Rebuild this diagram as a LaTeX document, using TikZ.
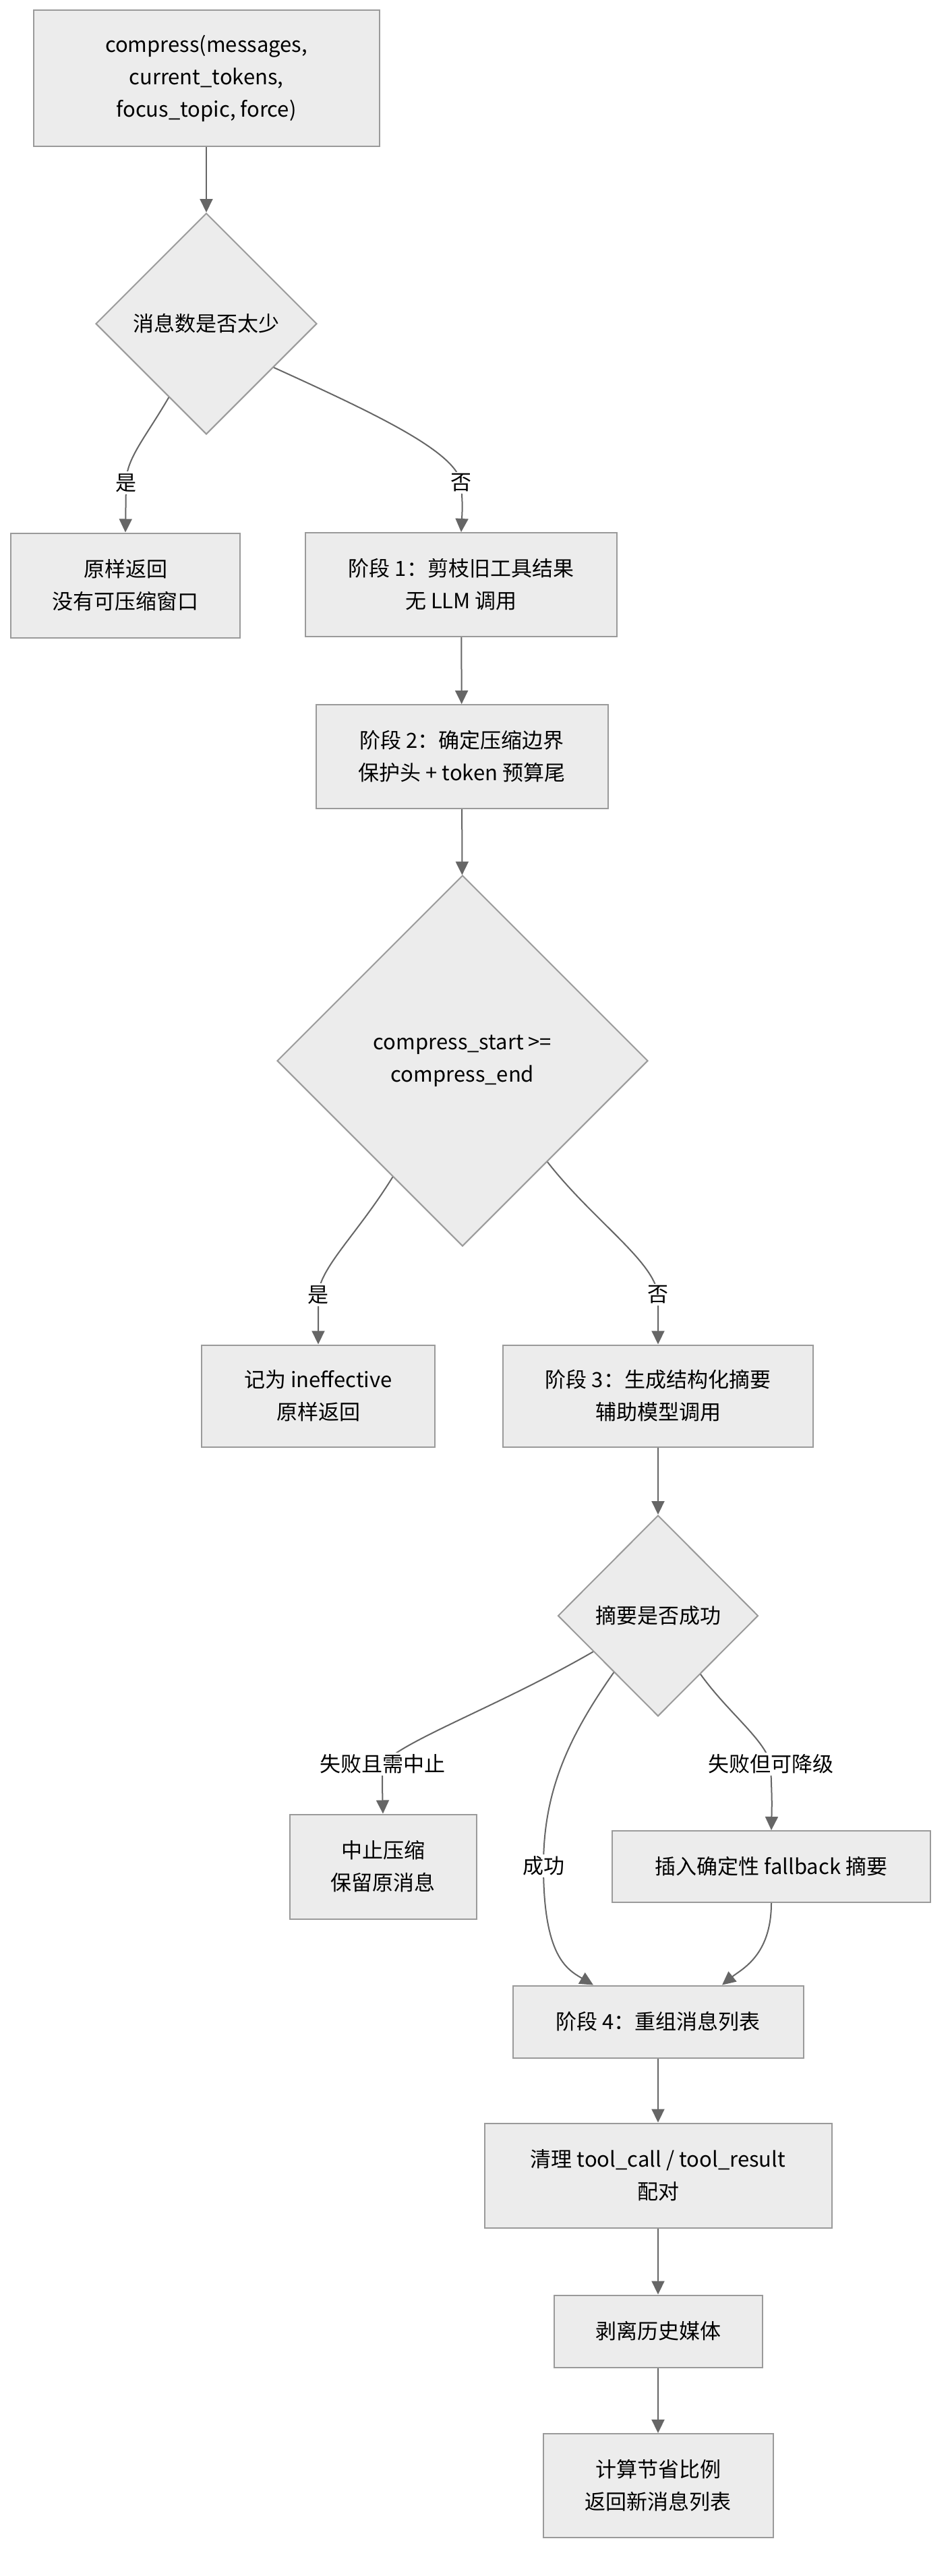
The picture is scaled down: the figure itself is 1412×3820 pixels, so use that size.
\documentclass[tikz,border=0pt]{standalone}
\usepackage{fontspec}
\setmainfont{Noto Sans CJK SC}
\usepackage{tikz}
\usetikzlibrary{arrows.meta,shapes.geometric,calc}
\definecolor{BoxFill}{HTML}{ECECEC}
\definecolor{BoxLine}{HTML}{9A9A9A}
\definecolor{EdgeGray}{HTML}{666666}

\tikzset{
  stage/.style={draw=BoxLine,fill=BoxFill,line width=2pt,align=center,
    inner sep=0pt,font=\fontsize{31}{48}\selectfont},
  check/.style={diamond,draw=BoxLine,fill=BoxFill,line width=2pt,align=center,
    inner sep=0pt,aspect=1,font=\fontsize{31}{48}\selectfont},
  edge/.style={draw=EdgeGray,line width=2pt,-{Triangle[length=20pt,width=19pt]}},
  elabel/.style={fill=white,inner sep=3pt,font=\fontsize{31}{40}\selectfont}
}

\begin{document}
\begin{tikzpicture}[x=1pt,y=-1pt]
  \useasboundingbox (0,0) rectangle (1412,3820);
  \node[stage,minimum width=513pt,minimum height=202pt] (start) at (306,116)
    {compress(messages,\\current\_tokens,\\focus\_topic, force)};
  \node[check,minimum width=328pt,minimum height=328pt] (few) at (306,480) {消息数是否太少};
  \node[stage,minimum width=340pt,minimum height=155pt] (keepA) at (186,868) {原样返回\\没有可压缩窗口};
  \node[stage,minimum width=462pt,minimum height=154pt] (prune) at (684,867) {阶段 1：剪枝旧工具结果\\无 LLM 调用};
  \node[stage,minimum width=433pt,minimum height=154pt] (bound) at (685,1122) {阶段 2：确定压缩边界\\保护头 + token 预算尾};
  \node[check,minimum width=550pt,minimum height=550pt] (range) at (686,1573) {compress\_start >=\\compress\_end};
  \node[stage,minimum width=346pt,minimum height=151pt] (noeff) at (472,2070) {记为 ineffective\\原样返回};
  \node[stage,minimum width=460pt,minimum height=151pt] (summ) at (976,2070) {阶段 3：生成结构化摘要\\辅助模型调用};
  \node[check,minimum width=297pt,minimum height=298pt] (ok) at (976,2396) {摘要是否成功};
  \node[stage,minimum width=277pt,minimum height=155pt] (abort) at (568,2768) {中止压缩\\保留原消息};
  \node[stage,minimum width=472pt,minimum height=106pt] (fallback) at (1144,2768) {插入确定性 fallback 摘要};
  \node[stage,minimum width=431pt,minimum height=107pt] (rebuild) at (976,2998) {阶段 4：重组消息列表};
  \node[stage,minimum width=515pt,minimum height=155pt] (pairs) at (976,3226) {清理 tool\_call / tool\_result\\配对};
  \node[stage,minimum width=309pt,minimum height=107pt] (media) at (976,3457) {剥离历史媒体};
  \node[stage,minimum width=341pt,minimum height=154pt] (finish) at (976,3686) {计算节省比例\\返回新消息列表};

  \coordinate (yesA) at (187,716);
  \coordinate (noA) at (684,716);
  \coordinate (yesB) at (472,1920);
  \coordinate (noB) at (976,1920);
  \coordinate (stopL) at (567,2616);
  \coordinate (okL) at (806,2767);
  \coordinate (fbL) at (1143,2616);

  \draw[edge] (start) -- (few);
  \draw[edge] (few.243) .. controls (215,650) and (187,680) .. (yesA) -- (keepA.north);
  \draw[edge] (few.327) .. controls (560,615) and (676,670) .. (noA) .. controls (686,750) .. (prune.north);
  \draw[edge] (prune) -- (bound);
  \draw[edge] (bound) -- (range);
  \draw[edge] (range.239) .. controls (530,1830) and (474,1880) .. (yesB) -- (noeff.north);
  \draw[edge] (range.310) .. controls (880,1810) and (970,1870) .. (noB) -- (summ.north);
  \draw[edge] (summ) -- (ok);
  \draw[edge] (ok.209) .. controls (740,2530) and (600,2580) .. (stopL) .. controls (567,2650) .. (abort.north);
  \draw[edge] (ok.232) .. controls (840,2580) and (806,2660) .. (okL)
    .. controls (806,2900) and (840,2920) .. ([xshift=-96pt]rebuild.north);
  \draw[edge] (ok.306) .. controls (1080,2540) and (1135,2580) .. (fbL) .. controls (1145,2670) .. (fallback.north);
  \draw[edge] (fallback.south) .. controls (1144,2900) and (1100,2920) .. ([xshift=95pt]rebuild.north);
  \draw[edge] (rebuild) -- (pairs);
  \draw[edge] (pairs) -- (media);
  \draw[edge] (media) -- (finish);

  \node[elabel] (lyesA) at (yesA) {是};
  \node[elabel] (lnoA) at (noA) {否};
  \node[elabel] (lyesB) at (yesB) {是};
  \node[elabel] (lnoB) at (noB) {否};
  \node[elabel] (lstop) at (stopL) {失败且需中止};
  \node[elabel] (lok) at (okL) {成功};
  \node[elabel] (lfb) at (fbL) {失败但可降级};
\end{tikzpicture}
\end{document}
